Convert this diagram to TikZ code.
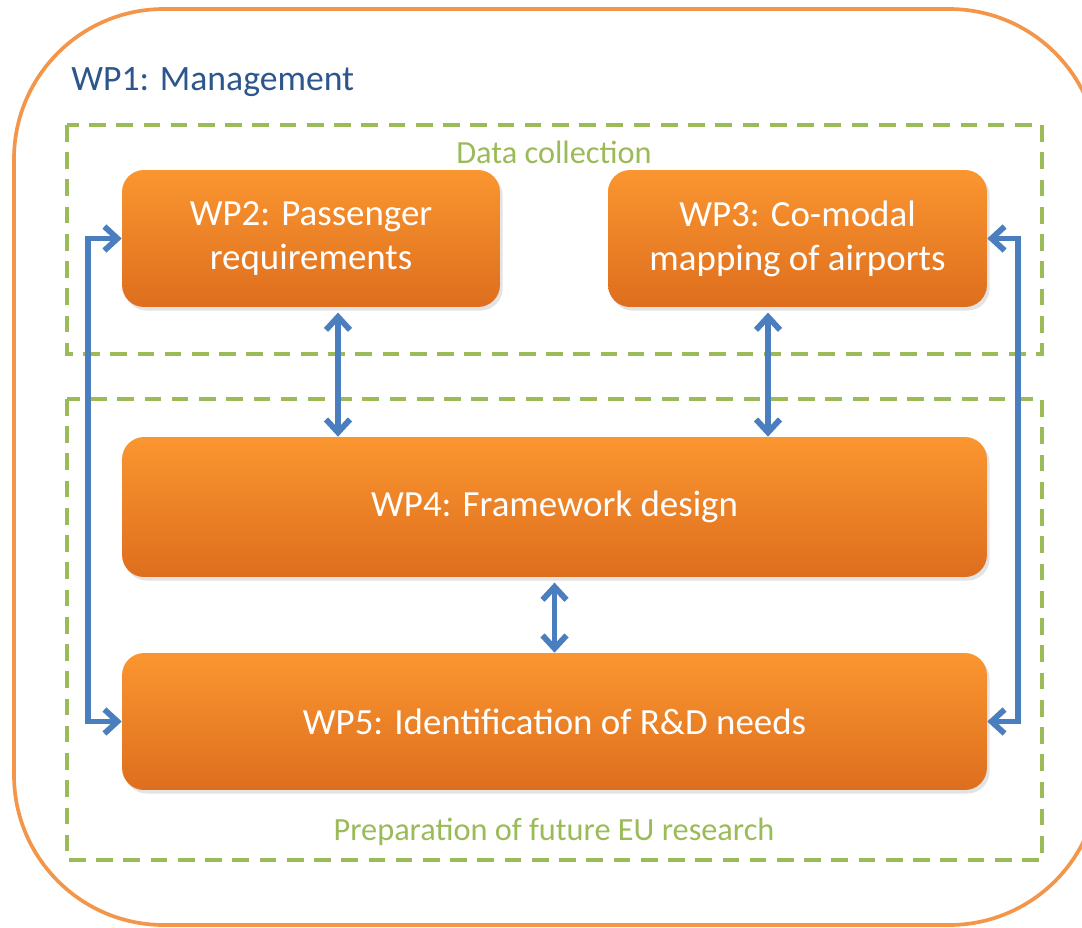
\documentclass[tikz,border=0pt]{standalone}
\usepackage{fontspec}
\setmainfont{Carlito}
\usepackage{xcolor}
\usepackage{tikz}
\usetikzlibrary{arrows.meta, shadows}
\definecolor{frameColor}{RGB}{243,150,74}
\definecolor{boxTop}{RGB}{250,150,48}
\definecolor{boxBottom}{RGB}{222,110,30}
\definecolor{groupColor}{RGB}{155,187,89}
\definecolor{linkColor}{RGB}{74,126,190}
\definecolor{titleColor}{RGB}{44,86,140}
\newcommand{\boxFont}{\fontsize{21}{25}\selectfont}
\newcommand{\groupFont}{\fontsize{18.4}{21}\selectfont}

\tikzset{
  wpBox/.style={
    rounded corners=0.44cm,
    top color=boxTop,
    bottom color=boxBottom,
    draw=none,
    text=white,
    align=center,
    font=\boxFont,
    inner sep=0pt,
    drop shadow={opacity=0.22, shadow xshift=1.5pt, shadow yshift=-2pt},
  },
  group/.style={
    color=groupColor,
    line width=2.3pt,
    dash pattern=on 9.5pt off 6pt,
  },
  groupLabel/.style={text=groupColor, font=\groupFont, inner sep=0pt},
  link/.style={
    color=linkColor,
    line width=3.3pt,
    {Straight Barb[length=2.6mm, width=4.8mm]}-{Straight Barb[length=2.6mm, width=4.8mm]},
  },
}

\begin{document}
\begin{tikzpicture}[x=0.02cm, y=-0.02cm]
    \clip (0, 0) rectangle (1082, 927);
    \fill[white] (0, 0) rectangle (1082, 927);
    \begin{scope}
      \draw[color=frameColor, line width=2.1pt, rounded corners=3cm] (14, 9) rectangle (1099, 925);
      \draw[group] (67, 125) rectangle (1042, 354);
      \draw[group] (67, 399) rectangle (1042, 860);
    \end{scope}
    \node[anchor=west, text=titleColor, font=\fontsize{20.3}{24}\selectfont, inner sep=0pt] (wp1) at (71, 82) {WP1: Management};
    \node[groupLabel] (collect) at (554, 152) {Data collection};
    \node[groupLabel] (prepare) at (554, 832) {Preparation of future EU research};

    \node[wpBox, minimum width=7.56cm, minimum height=2.74cm] (wp2) at (311, 238.5) {WP2: Passenger\\requirements};
    \node[wpBox, minimum width=7.58cm, minimum height=2.74cm] (wp3) at (797.5, 238.5) {WP3: Co-modal\\mapping of airports};
    \node[wpBox, minimum width=17.3cm, minimum height=2.8cm] (wp4) at (554.5, 507) {WP4: Framework design};
    \node[wpBox, minimum width=17.3cm, minimum height=2.74cm] (wp5) at (554.5, 721.5) {WP5: Identification of R\&D needs};

    % links between the work packages
    \draw[link] ([xshift=0.54cm, yshift=-3pt]wp2.south) -- ([xshift=0.54cm]wp2.south |- wp4.north);
    \draw[link] ([xshift=-0.59cm, yshift=-3pt]wp3.south) -- ([xshift=-0.59cm]wp3.south |- wp4.north);
    \draw[link] ([yshift=-3pt]wp4.south) -- (wp5.north);
    \draw[link] (wp2.west) -- ++(-34, 0) |- (wp5.west);
    \draw[link] (wp3.east) -- ++(31, 0) |- (wp5.east);
  \end{tikzpicture}
\end{document}
